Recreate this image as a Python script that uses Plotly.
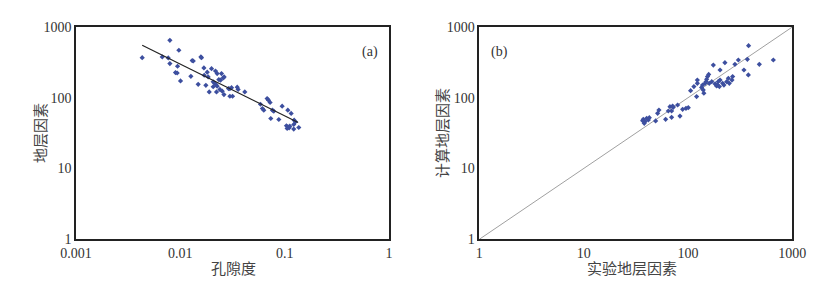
import plotly.graph_objects as go

# Panel (a): porosity vs formation factor
porosity = [0.00431, 0.00794, 0.00968, 0.00671, 0.00766, 0.00794, 0.00940, 0.00899, 0.00933, 0.01004,
            0.01262, 0.0130, 0.0133, 0.01574, 0.01596, 0.01483, 0.01683, 0.01811, 0.01991, 0.01694,
            0.01757, 0.01849, 0.01892, 0.02173, 0.02254, 0.02481, 0.02575, 0.02339, 0.02065, 0.02143,
            0.02189, 0.02254, 0.02065, 0.02222, 0.02393, 0.02427, 0.0263, 0.02523, 0.02618, 0.02897,
            0.02985, 0.03097, 0.02985, 0.03165, 0.0351, 0.0358, 0.0415, 0.0586, 0.0612, 0.0631,
            0.0679, 0.0700, 0.0725, 0.0763, 0.0786, 0.0736, 0.0879, 0.0946, 0.1072, 0.1154,
            0.1233, 0.1268, 0.1040, 0.1072, 0.1104, 0.112, 0.1056, 0.1222, 0.1222, 0.1365]
formation_factor = [369, 649, 469, 378, 366, 304, 279, 227, 224, 173,
                    201, 335, 331, 378, 369, 155, 264, 230, 258, 208,
                    150, 197, 121, 239, 220, 220, 191, 181, 168, 159,
                    154, 146, 143, 121, 131, 177, 197, 124, 111, 135,
                    134, 139, 105, 105, 141, 131, 121, 81, 70.5, 66.8,
                    97.5, 92.5, 85.7, 66.8, 64.7, 50.9, 49.3, 76, 66.8, 60,
                    48.3, 45.7, 40.2, 38.9, 37.6, 39.7, 36.8, 41.9, 36.1, 38]
fit_porosity = [0.00431, 0.1346]
fit_factor = [551, 44.8]

# Panel (b): measured vs calculated formation factor
measured = [37.3, 38.7, 40.2, 41.7, 36.8, 42.6, 38.1, 49.0, 51.2, 52.7,
            61.1, 64.8, 67.2, 69.7, 72.3, 71.3, 69.7, 79.6, 83.8, 88.9,
            95.7, 100.7, 106, 114, 121, 123, 123, 135, 138, 140,
            142, 146, 149, 151, 154, 158, 160, 169, 175, 182,
            188, 192, 200, 195, 203, 203, 215, 221, 226, 235,
            244, 249, 264, 268, 282, 304, 344, 379, 371, 381,
            483, 658]
calculated = [49.6, 45.9, 51.2, 48.5, 47.4, 52.4, 43.5, 47, 60.3, 67.1,
              49.6, 65, 74.8, 65, 73.3, 76.5, 53, 79, 55.2, 68.7,
              70.9, 72.4, 126, 144, 104, 160, 178, 140, 151, 129,
              116, 160, 169, 182, 199, 214, 160, 169, 290, 157,
              147, 151, 144, 169, 178, 247, 160, 151, 313, 169,
              188, 160, 178, 199, 297, 342, 247, 210, 349, 545,
              297, 342]
diag = [1, 1000]

pow_ticks = [1, 10, 100, 1000]
pow_text = ["1", "10", "100", "1000"]
por_ticks = [0.001, 0.01, 0.1, 1]
por_text = ["0.001", "0.01", "0.1", "1"]

FONT = "Liberation Serif, DejaVu Serif, serif"
CJK = "Noto Sans CJK SC"
TXT = "#333333"
MARK = "#3d4f9f"

# page body has an 8px margin; figure is sized to the visible area
W, H = 822, 277
OFF = 8


def px(x):
    return (x - OFF) / W


def py(y):
    return 1 - (y - OFF) / H


fig = go.Figure()
fig.add_trace(go.Scatter(x=porosity, y=formation_factor, mode="markers",
                         marker=dict(symbol="diamond", size=4, color=MARK),
                         xaxis="x", yaxis="y", showlegend=False))
fig.add_trace(go.Scatter(x=fit_porosity, y=fit_factor, mode="lines",
                         line=dict(color="#222222", width=1.2),
                         xaxis="x", yaxis="y", showlegend=False))
fig.add_trace(go.Scatter(x=diag, y=diag, mode="lines",
                         line=dict(color="#a0a0a0", width=1),
                         xaxis="x2", yaxis="y2", showlegend=False))
fig.add_trace(go.Scatter(x=measured, y=calculated, mode="markers",
                         marker=dict(symbol="diamond", size=4, color=MARK),
                         xaxis="x2", yaxis="y2", showlegend=False))

axis_common = dict(type="log", showgrid=False, zeroline=False, showline=True,
                   linecolor="#222222", linewidth=1.5, mirror=True, ticks="",
                   automargin=False,
                   tickfont=dict(family=FONT, size=14, color=TXT))
ydom = [py(239.3), py(27)]
title_font = dict(family=CJK, size=15, color="#444444")

fig.update_layout(
    width=W, height=H,
    margin=dict(l=0, r=0, t=0, b=0),
    paper_bgcolor="white", plot_bgcolor="white",
    font=dict(family=FONT, color=TXT),
    xaxis=dict(axis_common, domain=[px(76), px(389)], range=[-3, 0],
               tickvals=por_ticks, ticktext=por_text, anchor="y"),
    yaxis=dict(axis_common, domain=ydom, range=[0, 3], anchor="x",
               tickvals=pow_ticks, ticktext=pow_text),
    xaxis2=dict(axis_common, domain=[px(479.3), px(792.3)], range=[0, 3],
                tickvals=pow_ticks, ticktext=pow_text, anchor="y2"),
    yaxis2=dict(axis_common, domain=ydom, range=[0, 3], anchor="x2",
                tickvals=pow_ticks, ticktext=pow_text),
    annotations=[
        dict(text="(a)", x=0.97, y=0.93, xref="x domain", yref="y domain",
             showarrow=False, xanchor="right", yanchor="top",
             font=dict(family=FONT, size=14, color=TXT)),
        dict(text="(b)", x=0.03, y=0.93, xref="x2 domain", yref="y2 domain",
             showarrow=False, xanchor="left", yanchor="top",
             font=dict(family=FONT, size=14, color=TXT)),
        dict(text="孔隙度", x=px(233), y=py(267), xref="paper", yref="paper",
             showarrow=False, xanchor="center", yanchor="middle", font=title_font),
        dict(text="实验地层因素", x=px(632), y=py(267), xref="paper", yref="paper",
             showarrow=False, xanchor="center", yanchor="middle", font=title_font),
        dict(text="地层因素", x=px(40), y=py(133), xref="paper", yref="paper",
             showarrow=False, xanchor="center", yanchor="middle", textangle=-90,
             font=title_font),
        dict(text="计算地层因素", x=px(442), y=py(133), xref="paper", yref="paper",
             showarrow=False, xanchor="center", yanchor="middle", textangle=-90,
             font=title_font),
    ],
)

fig.write_html("out.html")
